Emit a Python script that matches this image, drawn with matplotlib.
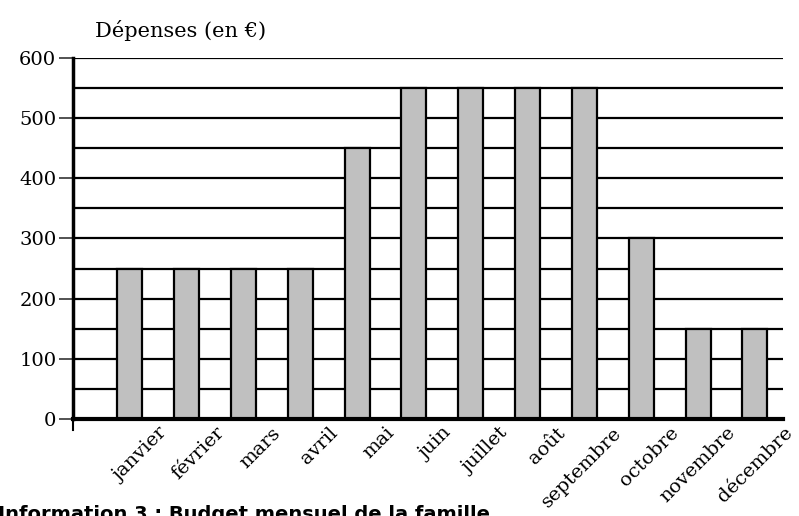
import matplotlib.pyplot as plt
import numpy as np

mois = ['janvier', 'février', 'mars', 'avril', 'mai', 'juin', 'juillet',
        'août', 'septembre', 'octobre', 'novembre', 'décembre']
depenses = [250, 250, 250, 250, 450, 550, 550, 550, 550, 300, 150, 150]
yticks = [0, 100, 200, 300, 400, 500, 600]

plt.rcParams['font.family'] = ['DejaVu Serif']

fig = plt.figure(figsize=(7.99, 5.16), dpi=100)
ax = fig.add_axes([0.0914, 0.188, 0.889, 0.6996])

x = np.arange(len(mois))
for y in range(50, 601, 50):
    ax.axhline(y, color='black', lw=1.6, zorder=1)
ax.bar(x, depenses, width=0.44, color='#c0c0c0', edgecolor='black',
       linewidth=1.6, zorder=2)

ax.set_xlim(-1.0, 11.5)
ax.set_ylim(0, 600)
ax.set_yticks(yticks)
ax.set_yticklabels([str(v) for v in yticks], fontsize=14)
ax.tick_params(axis='y', length=10, width=1.3, color='#444444', pad=2)
ax.set_xticks([])

for s in ['top', 'right']:
    ax.spines[s].set_visible(False)
ax.spines['left'].set_linewidth(2.5)
ax.spines['bottom'].set_linewidth(3)
ax.spines['left'].set_zorder(3)
ax.spines['bottom'].set_zorder(3)
ax.plot([-1.0, -1.0], [0, -18], color='black', lw=1.5, clip_on=False)

for i, m in enumerate(mois):
    ax.text(i + 0.72, -8, m, rotation=45, ha='right', va='top',
            fontsize=14)

fig.text(0.119, 0.94, 'Dépenses (en €)', fontsize=15, va='center')
fig.text(-0.003, 0.021, 'Information 3 : Budget mensuel de la famille',
         fontsize=14, fontweight='bold', family='DejaVu Sans', va='top')

fig.savefig('out.png', dpi=100)
